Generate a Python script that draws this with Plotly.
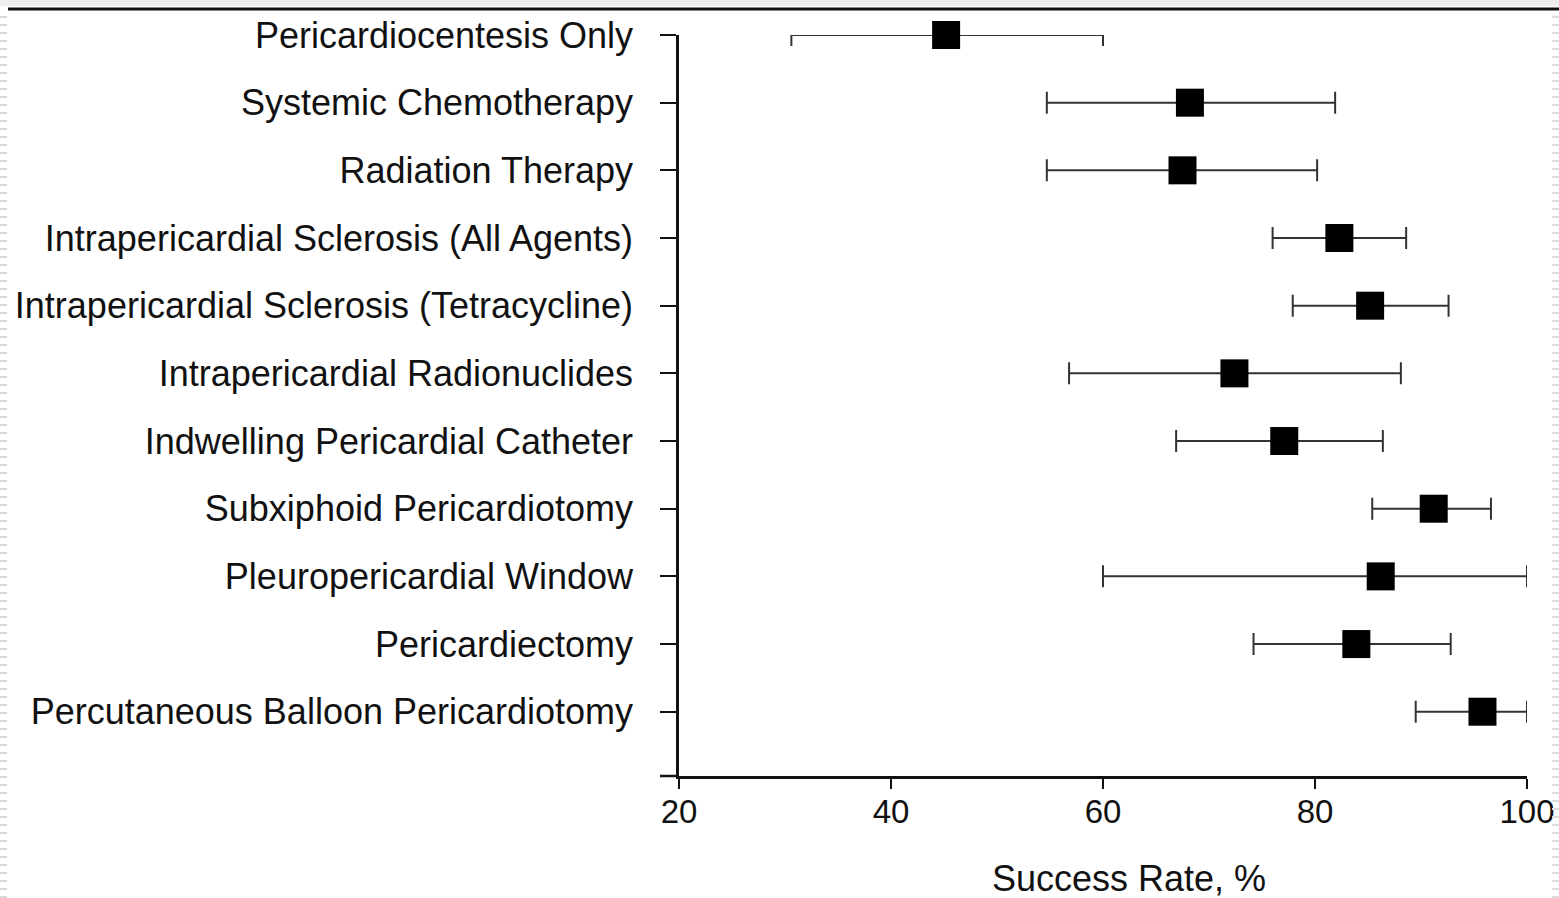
import plotly.graph_objects as go

categories = [
    "Pericardiocentesis Only",
    "Systemic Chemotherapy",
    "Radiation Therapy",
    "Intrapericardial Sclerosis (All Agents)",
    "Intrapericardial Sclerosis (Tetracycline)",
    "Intrapericardial Radionuclides",
    "Indwelling Pericardial Catheter",
    "Subxiphoid Pericardiotomy",
    "Pleuropericardial Window",
    "Pericardiectomy",
    "Percutaneous Balloon Pericardiotomy",
]
success = [45.2, 68.2, 67.5, 82.3, 85.2, 72.4, 77.1, 91.2, 86.2, 83.9, 95.8]
ci_low = [30.6, 54.7, 54.7, 76.0, 77.9, 56.8, 66.9, 85.4, 60.0, 74.2, 89.5]
ci_high = [60.0, 81.9, 80.2, 88.6, 92.6, 88.1, 86.4, 96.6, 100.0, 92.8, 100.0]
x_ticks = [20, 40, 60, 80, 100]

ypos = list(range(len(categories)))
err_plus = [h - s for h, s in zip(ci_high, success)]
err_minus = [s - l for s, l in zip(success, ci_low)]

FONT = "Liberation Sans, Arial, Helvetica, sans-serif"
W, H = 1559, 898
L, R, T, B = 679, 32, 35, 122
PW, PH = W - L - R, H - T - B

def px_x(p):
    return (p - L) / PW

def px_y(p):
    return 1 - (p - T) / PH

fig = go.Figure()
fig.add_trace(go.Scatter(
    x=success, y=ypos, mode="markers",
    marker=dict(symbol="square", size=28, color="black"),
    error_x=dict(type="data", symmetric=False, array=err_plus, arrayminus=err_minus,
                 color="#333333", thickness=2, width=11),
    cliponaxis=False, showlegend=False,
))

fig.update_layout(
    width=W, height=H, autosize=False,
    margin=dict(l=L, r=R, t=T, b=B, autoexpand=False),
    paper_bgcolor="white", plot_bgcolor="white",
    font=dict(family=FONT, color="#111111"),
    xaxis=dict(range=[20, 100], tickvals=x_ticks, ticktext=[str(v) for v in x_ticks],
               showgrid=False, zeroline=False, showline=True, linecolor="#111111", linewidth=2.5,
               ticks="outside", ticklen=10, tickwidth=2, tickcolor="#111111",
               ticklabelstandoff=-5, automargin=False,
               tickfont=dict(size=33, family=FONT, color="#111111")),
    yaxis=dict(range=[10.95, 0], tickvals=ypos, ticktext=categories,
               showgrid=False, zeroline=False, showline=True, linecolor="#111111", linewidth=2.5,
               ticks="outside", ticklen=16, tickwidth=2, tickcolor="#111111",
               ticklabelstandoff=20, automargin=False,
               tickfont=dict(size=36, family=FONT, color="#111111")),
    annotations=[dict(text="Success Rate, %", x=px_x(1129), y=px_y(856), xref="paper", yref="paper",
                      xanchor="center", yanchor="top", showarrow=False,
                      font=dict(size=36, family=FONT, color="#111111"))],
    shapes=[
        dict(type="rect", xref="paper", yref="paper", x0=px_x(0), x1=px_x(W),
             y0=px_y(6), y1=px_y(0), fillcolor="#eeeeee", line=dict(width=0), layer="below"),
        dict(type="line", xref="paper", yref="paper", x0=px_x(8), x1=px_x(W),
             y0=px_y(9), y1=px_y(9), line=dict(color="#111111", width=3)),
        dict(type="line", xref="paper", yref="paper", x0=px_x(3.5), x1=px_x(3.5),
             y0=px_y(H), y1=px_y(12), line=dict(color="#d8d8d8", width=7, dash="2px,6px")),
        dict(type="line", xref="paper", yref="paper", x0=px_x(1555.5), x1=px_x(1555.5),
             y0=px_y(H), y1=px_y(12), line=dict(color="#dddddd", width=7, dash="2px,6px")),
        dict(type="line", xref="paper", yref="paper", x0=px_x(660), x1=0,
             y0=0, y1=0, line=dict(color="#111111", width=2.5)),
    ],
)

fig.write_html(
    "out.html",
    config={"responsive": False, "displayModeBar": False},
    post_script="document.documentElement.style.overflow='hidden';"
                "document.body.style.margin='0px';document.body.style.overflow='hidden';",
)
